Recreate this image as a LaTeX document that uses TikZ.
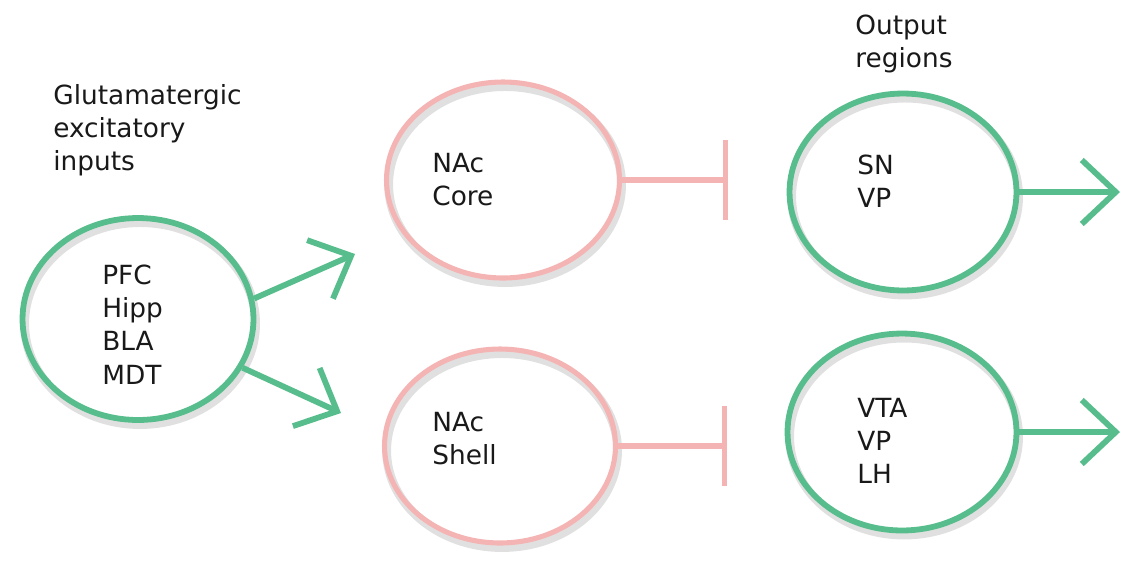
\documentclass[tikz,border=0pt]{standalone}
\usepackage{fontspec}
\setmainfont{DejaVu Sans}
\usepackage{tikz}
\usetikzlibrary{arrows.meta,positioning,shapes.geometric,calc}
\definecolor{exgreen}{RGB}{88,189,140}
\definecolor{inhpink}{RGB}{245,180,180}
\definecolor{txtdark}{RGB}{25,25,25}
\begin{document}
\begin{tikzpicture}[
      x=0.02cm, y=-0.02cm,
      every node/.style={font=\fontsize{15}{18.8}\selectfont, text=txtdark},
      ring/.style={ellipse, draw=#1, inner sep=0pt,
                   preaction={draw=black, draw opacity=0.12, line width=5pt,
                              transform canvas={shift={(1.2pt,-2.6pt)}}}},
      gring/.style={ring=exgreen, line width=3.3pt},
      pring/.style={ring=inhpink, line width=2.9pt},
      txt/.style={align=left, anchor=north west, inner sep=0pt},
      exc/.style={exgreen, line width=3.3pt, -{Straight Barb[length=0.68cm, width=1.28cm]}},
      inh/.style={inhpink, line width=3pt, -{Bar[width=1.6cm]}}
  ]
    \useasboundingbox (0,0) rectangle (1125,566);

    \node[gring, minimum width=4.62cm, minimum height=4.04cm] (inp) at (138,319) {};
    \node[pring, minimum width=4.66cm, minimum height=3.92cm] (core) at (503,180) {};
    \node[pring, minimum width=4.62cm, minimum height=3.88cm] (shell) at (500,446) {};
    \node[gring, minimum width=4.54cm, minimum height=3.94cm] (sn) at (903,192) {};
    \node[gring, minimum width=4.58cm, minimum height=3.94cm] (vta) at (902,432) {};

    \node[txt] (glut) at (53,84) {Glutamatergic\\excitatory\\inputs};
    \node[txt] (outr) at (855,15) {Output\\regions};
    \node[txt] (inptxt) at (102,265) {PFC\\Hipp\\BLA\\MDT};
    \node[txt] (coretxt) at (432,153) {NAc\\Core};
    \node[txt] (shelltxt) at (432,412) {NAc\\Shell};
    \node[txt] (sntxt) at (857,155) {SN\\VP};
    \node[txt] (vtatxt) at (857,398) {VTA\\VP\\LH};

    \coordinate (uptip) at (355,254);
    \coordinate (lowtip) at (341,413);
    \coordinate (corebar) at (728,180);
    \coordinate (shellbar) at (727,446);
    \coordinate (sntip) at (1120,192);
    \coordinate (vtatip) at (1120,432);

    \draw[exc] (inp.10) -- (uptip);
    \draw[exc] (inp.-25) -- (lowtip);
    \draw[inh] (core.east) -- (corebar);
    \draw[inh] (shell.east) -- (shellbar);
    \draw[exc] (sn.east) -- (sntip);
    \draw[exc] (vta.east) -- (vtatip);
  \end{tikzpicture}
\end{document}
